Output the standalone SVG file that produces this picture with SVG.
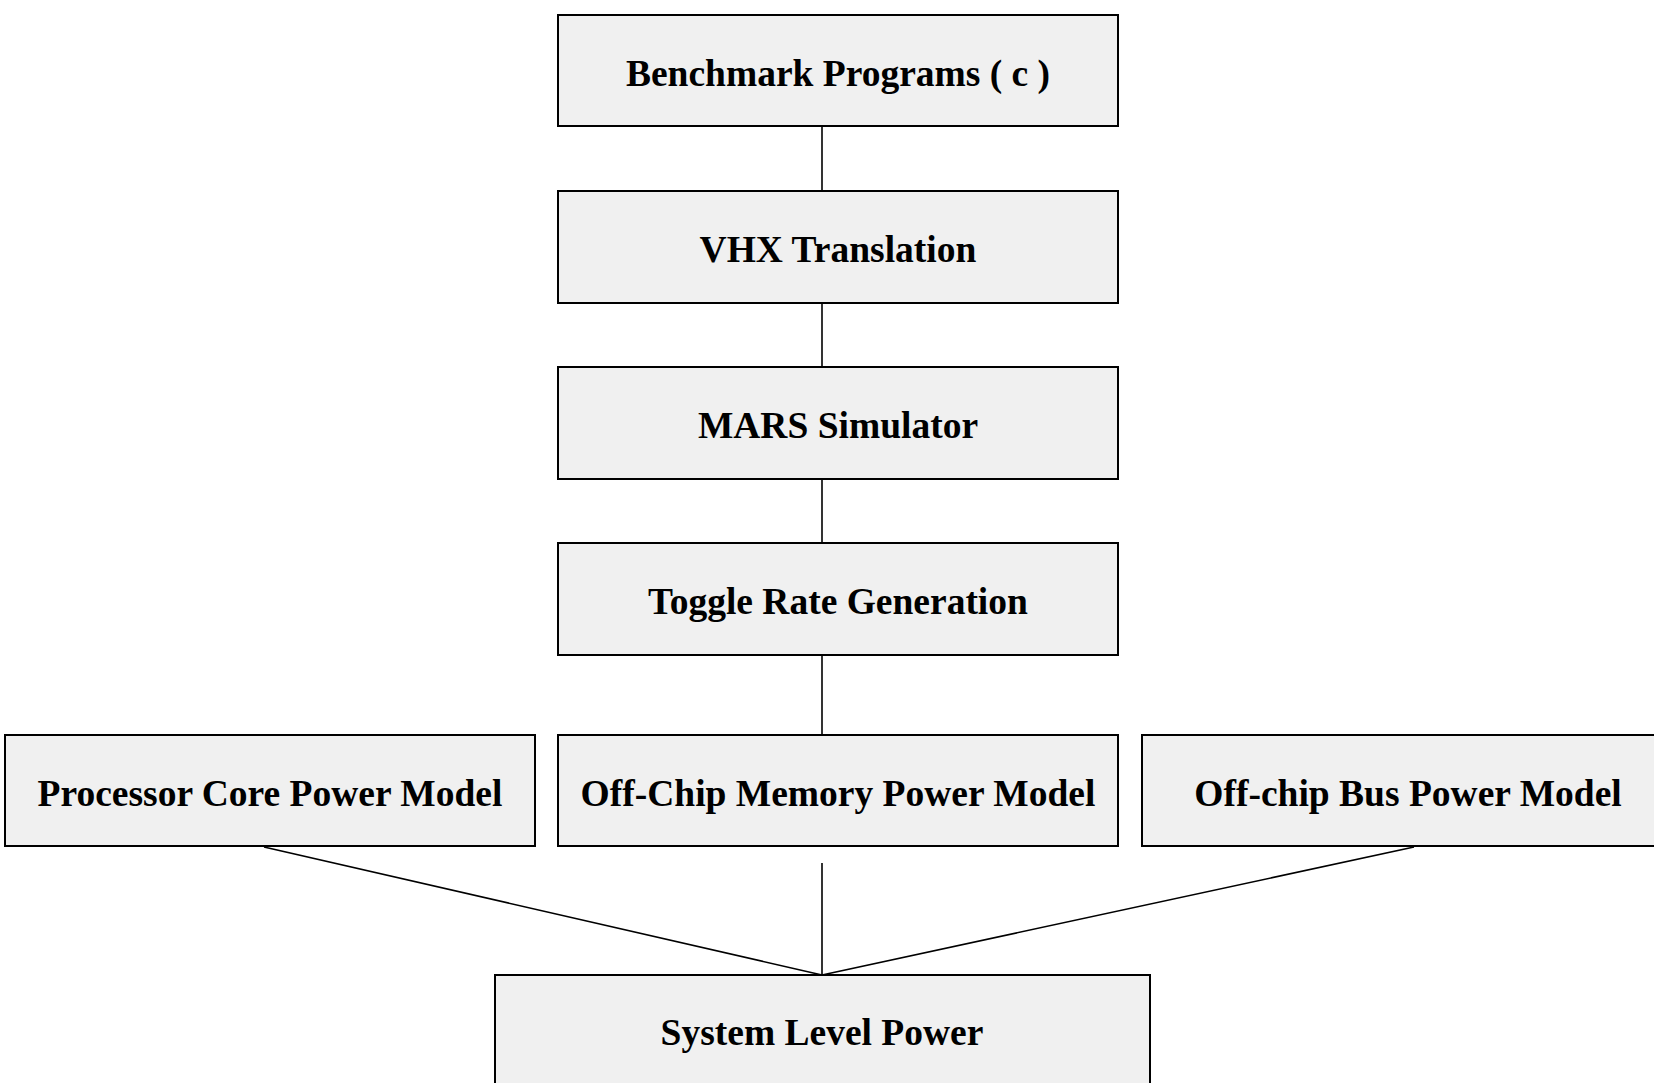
<svg xmlns="http://www.w3.org/2000/svg" width="1654" height="1083" viewBox="0 0 1654 1083">
<style>
.box{fill:#f0f0f0;stroke:#000;stroke-width:2}
.lbl{font-family:"Liberation Serif","Times New Roman",serif;font-weight:bold;font-size:37.5px;fill:#000;text-anchor:middle}
.con{stroke:#000;stroke-width:1.6;fill:none}
</style>
<rect width="1654" height="1083" fill="#fff"/>
<g id="connectors">
<line class="con" x1="822" y1="126" x2="822" y2="191"/>
<line class="con" x1="822" y1="303" x2="822" y2="367"/>
<line class="con" x1="822" y1="479" x2="822" y2="543"/>
<line class="con" x1="822" y1="655" x2="822" y2="735"/>
<line class="con" x1="822" y1="863" x2="822" y2="975"/>
<line class="con" x1="264" y1="847" x2="822" y2="975"/>
<line class="con" x1="1414" y1="847" x2="822" y2="975"/>
</g>
<g id="benchmark">
<rect class="box" x="558" y="15" width="560" height="111"/>
<text class="lbl" x="838" y="86">Benchmark Programs ( c )</text>
</g>
<g id="vhx">
<rect class="box" x="558" y="191" width="560" height="112"/>
<text class="lbl" x="838" y="262">VHX Translation</text>
</g>
<g id="mars">
<rect class="box" x="558" y="367" width="560" height="112"/>
<text class="lbl" x="838" y="438">MARS Simulator</text>
</g>
<g id="toggle">
<rect class="box" x="558" y="543" width="560" height="112"/>
<text class="lbl" x="838" y="614">Toggle Rate Generation</text>
</g>
<g id="processor">
<rect class="box" x="5" y="735" width="530" height="111"/>
<text class="lbl" x="270" y="806">Processor Core Power Model</text>
</g>
<g id="memory">
<rect class="box" x="558" y="735" width="560" height="111"/>
<text class="lbl" x="838" y="806">Off-Chip Memory Power Model</text>
</g>
<g id="bus">
<rect class="box" x="1142" y="735" width="540" height="111"/>
<text class="lbl" x="1408" y="806">Off-chip Bus Power Model</text>
</g>
<g id="system">
<rect class="box" x="495" y="975" width="655" height="120"/>
<text class="lbl" x="822" y="1045">System Level Power</text>
</g>
</svg>
